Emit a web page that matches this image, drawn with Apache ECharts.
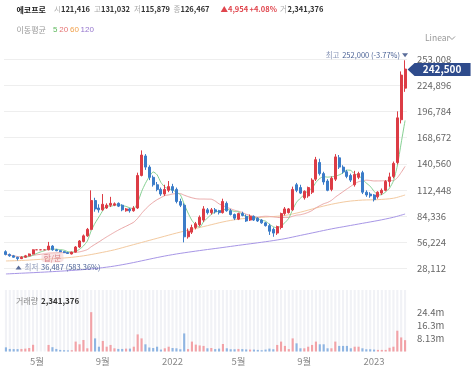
<!DOCTYPE html>
<html><head><meta charset="utf-8">
<script src="https://cdn.jsdelivr.net/npm/echarts@6/dist/echarts.min.js"></script>
<style>html,body{margin:0;padding:0;background:#fff}#c{width:474px;height:381px}</style>
</head><body><div id="c"></div>
<script>
// ---- data (weekly candles, prices in thousands of won, volume in millions) ----
const firstWeek = '2021-03-12';
const weekCount = 104;
const opens = [46,43,41.5,40,38.5,40,41.5,43.5,48,48,48,48,52,48,47,46,45,43.5,45.5,51,57,63,70,101,93,91,93,96,96,98,96,90,92,90,93,128,149,137,126,118,113,108,112,116,113,100,96,62,67,72,75,80,91,88,91,90,88,98,90,86,81,87,84,80,84,82,80,77,74,70,66,72,87,88,91,118,115,104,106,110,124,142,130,122,113,124,147,137,132,128,118,126,131,110,108,107,105,109,112,121.416,127,142,188,222];
const closes = [43,41.5,40,38.5,40,41.5,43.5,48,48,48,48,52,48,47,46,45,44,45.5,51,57.5,63,70,101,92,91,97,96,98,97.5,95,91,92,90,93,128,150,137,126,118,113,108,113,116,112,100,96,62,68,72,76,83,92,88,91,89,88,100,90,86,82,87,85,79,84,80,79,77,74,68,66,73,87,92,92,113,112,109,111,115,123,145,130,121,112,125,148,137,132,127,123,129,130,110,107,106,102,110,112,121.513,126.467,141,190,236,242.5];
const lows = [42,40.5,39.5,36.487,38,39.5,41,43,48,48,48,47.5,47,46.5,45.5,44.5,43.5,43,45,50,56,62,69,89,88,90,92,94,95,94,89.5,89,88,89,92,127,134,123,116,111,106,106,110,109,98,94,56,60,65,70,73,78,86,86,87,86,87,89,85,80,80,84,78,79,79,78,76,73,64,62,64,70,85,87,90,110,108,102,104,108,122,128,118,111,111,122,135,130,125,121,116,124,108,105,104,100,103,107,111,115.879,125,140,184,218];
const highs = [47.5,44,42.5,40.5,41,42.5,44,48.5,48,48,48,56.5,53,49,47.5,46.5,45.5,46,52,58.5,64.5,71.5,112,104,97,108,98,105,99,99,97,93,93,95,131,155,151,139,128,121,115,118,122,119,115,103,98,71,75,78,85,95,93,93,93,91,103,100,92,87,88,89,86,86,85,83,81,78,76,72,74,88,94,93,116,120,118,112,116,125,148,146,132,124,127,151,150,139,134,130,133,132,133,112,110,108,111,114,123,131.032,143,197,240,252];
const volumesM = [2.6,1.6,1.5,1.5,1.6,1.8,2.2,4.2,0,0,0,4.1,2.7,1.6,1.0,0.8,0.7,0.8,6.2,4.5,7.2,2.0,24.6,8.2,3.0,6.6,3.0,4.1,2.0,1.6,1.6,1.8,1.8,3.0,10.7,8.2,4.5,2.5,2.2,3.0,1.2,2.0,3.0,2.2,2.0,1.4,11.3,1.5,6.2,4.3,3.8,3.5,2.0,2.2,1.5,1.8,4.7,2.0,1.4,1.4,1.6,1.5,1.3,1.2,1.2,1.0,0.8,1.2,1.8,1.4,4.1,6.2,3.5,1.5,8.2,5.1,2.0,2.0,3.0,4.1,6.2,4.5,4.5,2.0,2.0,6.2,3.5,3.5,3.5,2.0,3.0,3.0,2.0,1.4,1.4,1.2,1.0,1.0,1.0,2.341376,3.0,13.0,8.8,7.1];
// long moving averages (week index, value in thousands)
const maLongWeeks = [0,4,8,12,16,20,24,28,32,36,40,44,48,52,56,60,64,68,72,76,80,84,88,92,96,100,103];
const ma60K  = [36,36.5,37.5,38.5,39.5,41.5,44.5,48,52.5,57,61.5,66,70,74,78,81,82.5,83.5,85,88.5,93,97,100,101.5,102,103.5,107];
const ma120K = [22,22.8,23.6,24.5,25.5,26.7,28.3,30.5,33.5,37,40.5,43.5,46,48.3,50.5,52.8,55,57.3,60,63.5,67,70.5,73.5,76.5,79.5,83,86.5];
// axis ticks
const priceTickStep = 28112;
const priceAxisMax = 281120;
const volTickStep = 8130000;
const volAxisMax = 38460000;
const highInfo = {week: 103, value: 252000, text: '252,000 (-3.77%)'};
const lowInfo = {week: 3, value: 36487, text: '36,487 (583.36%)'};
const lastPrice = 242500;
const eventInfo = {week: 12, value: 39700, text: '합/분'};

// ---- build ----
const dates = [];
{
  const d0 = new Date(firstWeek + 'T00:00:00Z');
  for (let i = 0; i < weekCount; i++) {
    const d = new Date(d0.getTime() + i * 7 * 86400000);
    dates.push(d.toISOString().slice(0, 10));
  }
}
const K = 1000;
const candleData = dates.map((d, i) => [opens[i] * K, closes[i] * K, lows[i] * K, highs[i] * K]);
function trailingMA(n, start) {
  return closes.map((c, i) => {
    if (i < start) return '-';
    const from = Math.max(0, i - n + 1);
    let s = 0;
    for (let j = from; j <= i; j++) s += closes[j];
    return +(s / (i - from + 1) * K).toFixed(0);
  });
}
const UP = '#dc3c45', DOWN = '#3b7cc8';
const UPV = '#f2a2a7', DOWNV = '#8fb5e2';
const volData = volumesM.map((v, i) => ({
  value: v * 1e6,
  itemStyle: {color: closes[i] >= opens[i] ? UPV : DOWNV}
}));
function isLabelWeek(idx) {
  if (idx === 0) return false;
  const m = +dates[idx].slice(5, 7), pm = +dates[idx - 1].slice(5, 7);
  return m !== pm && (m === 1 || m === 5 || m === 9);
}
const FONT = '"Noto Sans CJK KR", "Noto Sans", sans-serif';

const header = [
  ['에코프로', 16.5, '#222', 'bold', 8],
  ['시', 54, '#aaa', 'normal', 7.5], ['121,416', 61, '#333', 'bold', 7.5],
  ['고', 94, '#aaa', 'normal', 7.5], ['131,032', 101, '#333', 'bold', 7.5],
  ['저', 134, '#aaa', 'normal', 7.5], ['115,879', 141, '#333', 'bold', 7.5],
  ['종', 173.5, '#aaa', 'normal', 7.5], ['126,467', 180.5, '#333', 'bold', 7.5],
  ['▲4,954', 220.5, '#e0454d', 'bold', 7.5], ['+4.08%', 249.5, '#e0454d', 'bold', 7.5],
  ['거', 280, '#aaa', 'normal', 7.5], ['2,341,376', 287.5, '#333', 'bold', 7.5]
];
const graphics = [];
header.forEach(h => graphics.push({type: 'text', z: 100, x: h[1], y: 9.5, style: {text: h[0], fill: h[2], fontWeight: h[3], fontSize: h[4], fontFamily: FONT, verticalAlign: 'middle'}}));
graphics.push({type: 'text', z: 100, x: 16.5, y: 29.5, style: {text: '이동평균', fill: '#999', fontSize: 8, fontFamily: FONT, verticalAlign: 'middle'}});
graphics.push({type: 'text', z: 100, x: 53, y: 29.5, style: {
  text: '{a|5} {b|20} {c|60} {d|120}', fontSize: 8, fontFamily: FONT, verticalAlign: 'middle',
  rich: {a: {fill: '#5cb85c', fontSize: 8}, b: {fill: '#e57373', fontSize: 8}, c: {fill: '#f0a04b', fontSize: 8}, d: {fill: '#9575cd', fontSize: 8}}}});
graphics.push({type: 'text', z: 100, x: 425, y: 38, style: {text: 'Linear', fill: '#999', fontSize: 8.5, fontFamily: FONT, verticalAlign: 'middle'}});
graphics.push({type: 'polyline', z: 100, shape: {points: [[449, 36.5], [452, 39.5], [455, 36.5]]}, style: {stroke: '#999', lineWidth: 1, fill: null}});
graphics.push({type: 'text', z: 100, x: 16, y: 300.5, style: {text: '거래량', fill: '#888', fontSize: 8, fontFamily: FONT, verticalAlign: 'middle'}});
graphics.push({type: 'text', z: 100, x: 41, y: 300.5, style: {text: '2,341,376', fill: '#333', fontWeight: 'bold', fontSize: 8, fontFamily: FONT, verticalAlign: 'middle'}});

const chart = echarts.init(document.getElementById('c'), null, {renderer: 'canvas'});
chart.setOption({
  animation: false,
  backgroundColor: '#fff',
  textStyle: {fontFamily: FONT},
  graphic: graphics,
  grid: [
    {left: 4, right: 67, top: 33.2, bottom: 86.6},
    {left: 4, right: 67, top: 290, bottom: 29.5}
  ],
  xAxis: [
    {type: 'category', gridIndex: 0, data: dates, boundaryGap: true, show: false},
    {type: 'category', gridIndex: 1, data: dates, boundaryGap: true,
      axisLine: {show: false}, axisTick: {show: false},
      axisLabel: {
        interval: (idx) => isLabelWeek(idx),
        formatter: (v) => { const m = +v.slice(5, 7); return m === 1 ? v.slice(0, 4) : m + '월'; },
        color: '#888', fontSize: 9.5, margin: 5, fontFamily: FONT
      }}
  ],
  yAxis: [
    {type: 'value', gridIndex: 0, position: 'right', min: 0, max: priceAxisMax, interval: priceTickStep,
      axisLine: {show: false}, axisTick: {show: false},
      axisLabel: {showMinLabel: false, showMaxLabel: false, color: '#666', fontSize: 9.5, margin: 10, fontFamily: FONT,
        formatter: (v) => v.toLocaleString('en-US')},
      splitLine: {show: true, showMinLine: false, showMaxLine: false, lineStyle: {color: '#eeeeee', width: 1}}},
    {type: 'value', gridIndex: 1, position: 'right', min: 0, max: volAxisMax, interval: volTickStep,
      axisLine: {show: false}, axisTick: {show: false}, splitLine: {show: false},
      axisLabel: {showMaxLabel: false, color: '#666', fontSize: 9.5, margin: 10, fontFamily: FONT,
        formatter: (v) => (v < 1 || v > 30e6) ? '' : (v / 1e6).toPrecision(3) + 'm'}}
  ],
  series: [
    {type: 'line', name: 'MA120', xAxisIndex: 0, yAxisIndex: 0, data: maLongWeeks.map((w, k) => [w, ma120K[k] * K]),
      smooth: 0.3, showSymbol: false, lineStyle: {color: '#a796e6', width: 1}, z: 3},
    {type: 'line', name: 'MA60', xAxisIndex: 0, yAxisIndex: 0, data: maLongWeeks.map((w, k) => [w, ma60K[k] * K]),
      smooth: 0.3, showSymbol: false, lineStyle: {color: '#f3caa0', width: 1}, z: 3},
    {type: 'line', name: 'MA20', xAxisIndex: 0, yAxisIndex: 0, data: trailingMA(20, 0),
      smooth: 0.2, showSymbol: false, lineStyle: {color: '#eaa6a6', width: 1}, z: 3},
    {type: 'line', name: 'MA5', xAxisIndex: 0, yAxisIndex: 0, data: trailingMA(5, 4),
      smooth: 0.2, showSymbol: false, lineStyle: {color: '#86d093', width: 1}, z: 3},
    {type: 'candlestick', xAxisIndex: 0, yAxisIndex: 0, data: candleData, barWidth: '62%', z: 4,
      itemStyle: {color: UP, color0: DOWN, borderColor: UP, borderColor0: DOWN, borderWidth: 1},
      markPoint: {
        animation: false,
        data: [
          {coord: [dates[highInfo.week], highInfo.value], symbol: 'triangle', symbolRotate: 180, symbolSize: [6, 4], symbolOffset: [0, -5],
            itemStyle: {color: '#5a6d9a'},
            label: {show: true, position: 'left', distance: 2, formatter: '{g|최고} {b|' + highInfo.text + '}',
              rich: {g: {color: '#8c98b8', fontSize: 7.5, fontFamily: FONT}, b: {color: '#4c6396', fontSize: 7.5, fontFamily: FONT}}}},
          {coord: [dates[lowInfo.week], lowInfo.value], symbol: 'triangle', symbolSize: [6, 4], symbolOffset: [1, 7],
            itemStyle: {color: '#5a6d9a'},
            label: {show: true, position: 'right', distance: 3, formatter: '{g|최저} {b|' + lowInfo.text + '}',
              rich: {g: {color: '#8c98b8', fontSize: 7.5, fontFamily: FONT}, b: {color: '#4c6396', fontSize: 7.5, fontFamily: FONT}}}},
          {coord: [dates[eventInfo.week], eventInfo.value], symbol: 'roundRect', symbolSize: [22, 10],
            itemStyle: {color: 'rgba(244,208,208,0.55)'},
            label: {show: true, position: 'inside', formatter: eventInfo.text, color: '#d98085', fontSize: 8, fontFamily: FONT}},
          {coord: [dates[weekCount - 1], lastPrice], symbol: 'path://M0,6.5L7,0L63,0L63,13L7,13Z', symbolSize: [63, 13], symbolOffset: [34, 0.5],
            itemStyle: {color: '#2e4b8c'},
            label: {show: true, position: 'inside', offset: [3, 0], formatter: lastPrice.toLocaleString('en-US'), color: '#fff', fontSize: 10, fontWeight: 'bold', fontFamily: FONT}}
        ]
      }},
    {type: 'bar', xAxisIndex: 1, yAxisIndex: 1, data: volData, barWidth: '55%',
      showBackground: true, backgroundStyle: {color: '#f1f2f6'}}
  ]
});
</script></body></html>
